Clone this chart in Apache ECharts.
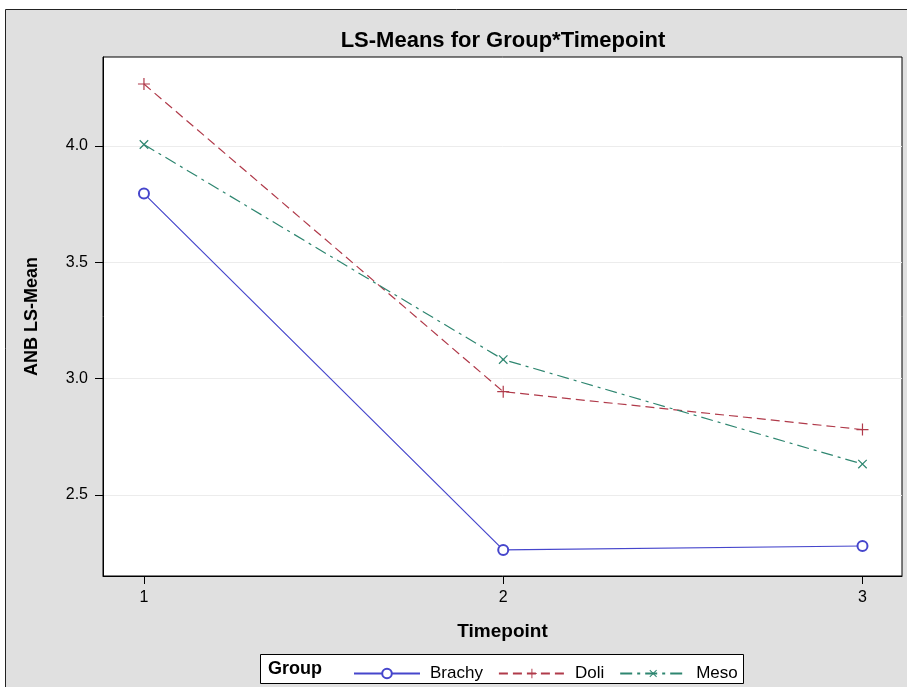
<!DOCTYPE html>
<html><head><meta charset="utf-8">
<script src="https://cdn.jsdelivr.net/npm/echarts@6/dist/echarts.min.js"></script>
<style>html,body{margin:0;padding:0;background:#fff}#c{width:907px;height:687px}</style>
</head><body><div id="c"></div>
<script>
const timepoints = [1, 2, 3];
const groups = ['Brachy', 'Doli', 'Meso'];
const brachy = [3.795, 2.264, 2.281];
const doli = [4.266, 2.944, 2.781];
const meso = [4.006, 3.082, 2.633];
const yTicks = [2.5, 3.0, 3.5, 4.0];

const FONT = '"Liberation Sans",Arial,sans-serif';
const colors = ['#4646cc', '#b03a4a', '#2e8670'];
const plusPath = 'path://M-0.6,-6H0.6V6H-0.6Z M-6,-0.6H6V0.6H-6Z';

function pts(arr){ return timepoints.map((t,i)=>[t, arr[i]]); }

const chart = echarts.init(document.getElementById('c'), null, {renderer:'canvas'});
chart.setOption({
  backgroundColor: '#ffffff',
  animation: false,
  graphic: [
    {type:'rect', z:-10, shape:{x:5.5, y:9.5, width:960, height:760},
     style:{fill:'#e0e0e0', stroke:'#222', lineWidth:1}},
    {type:'rect', z:5, shape:{x:260.5, y:654.5, width:483, height:29},
     style:{fill:'#ffffff', stroke:'#000', lineWidth:1}},
    {type:'text', z:6, x:268, y:669,
     style:{text:'Group', font:'bold 18px '+FONT, fill:'#000', textVerticalAlign:'middle'}},
    {type:'text', z:6, x:503, y:41,
     style:{text:'LS-Means for Group*Timepoint', font:'bold 22px '+FONT, fill:'#000',
            textAlign:'center', textVerticalAlign:'middle'}}
  ],
  legend: {
    data: groups,
    left: 348, top: 660, z: 10,
    itemWidth: 66, itemHeight: 12, itemGap: 15,
    textStyle: {fontFamily: FONT, fontSize: 17, color:'#000', padding:[0,0,0,5]}
  },
  grid: {left: 103, top: 57, right: 5, bottom: 111, show: true,
         backgroundColor:'#ffffff', borderColor:'#000', borderWidth:1},
  xAxis: {
    type: 'value', min: 0.886, max: 3.11,
    name: 'Timepoint', nameLocation: 'middle', nameGap: 46,
    nameTextStyle: {fontFamily: FONT, fontWeight:'bold', fontSize:19, color:'#000'},
    axisLine: {show:true, onZero:false, lineStyle:{color:'#000'}},
    axisTick: {show:true, length:8, customValues: timepoints, lineStyle:{color:'#000'}},
    axisLabel: {customValues: timepoints, fontFamily: FONT, fontSize:16, color:'#000', margin:14},
    splitLine: {show:false}
  },
  yAxis: {
    type: 'value', min: 2.152, max: 4.382,
    name: 'ANB LS-Mean', nameLocation: 'middle', nameGap: 62,
    nameTextStyle: {fontFamily: FONT, fontWeight:'bold', fontSize:18, color:'#000'},
    axisLine: {show:true, onZero:false, lineStyle:{color:'#000'}},
    axisTick: {show:true, length:8, customValues: yTicks, lineStyle:{color:'#000'}},
    axisLabel: {customValues: yTicks, fontFamily: FONT, fontSize:16, color:'#000', margin:15,
                formatter: v => v.toFixed(1)},
    splitLine: {show:true, lineStyle:{color:'#ececec', width:1}}
  },
  series: [
    {name:'Brachy', type:'line', data: pts(brachy), symbol:'emptyCircle', symbolSize:10,
     lineStyle:{color:colors[0], width:1.2, type:'solid'},
     itemStyle:{color:colors[0], borderColor:colors[0], borderWidth:1.2}},
    {name:'Doli', type:'line', data: pts(doli), symbol: plusPath, symbolSize:12,
     lineStyle:{color:colors[1], width:1.2, type:[9,5]},
     itemStyle:{color:colors[1]}},
    {name:'Meso', type:'line', data: pts(meso), symbol: plusPath, symbolSize:12, symbolRotate:45,
     lineStyle:{color:colors[2], width:1.2, type:[12,5,3,5]},
     itemStyle:{color:colors[2]}}
  ]
});
</script></body></html>
